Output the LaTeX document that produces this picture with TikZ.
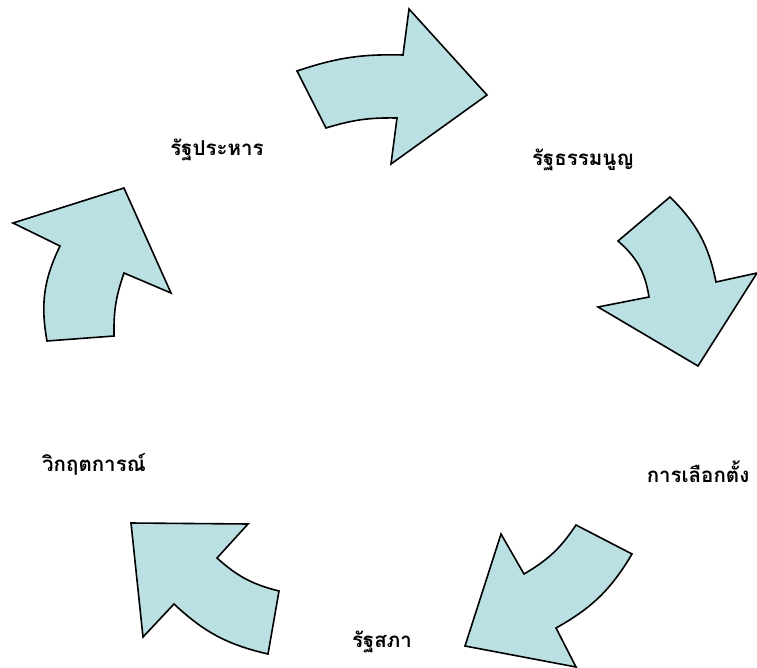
\documentclass[tikz,border=0pt]{standalone}
\usepackage{fontspec}
\newfontfamily\thaifont[Script=Thai]{Loma}
\definecolor{arrowfill}{RGB}{186,224,227}
\begin{document}
\begin{tikzpicture}[x=1pt,y=1pt,
  cyc/.style={draw=black,fill=arrowfill,line width=1.6pt,line join=miter},
  lbl/.style={font=\thaifont\bfseries\fontsize{20.5}{24}\selectfont,text=black,inner sep=0pt}]
\useasboundingbox (0,0) rectangle (757,-668);
% arrow 1 (top)
\draw[cyc] (297,-71) to[bend left=10] (403,-55) -- (409,-9) -- (487,-95) -- (391,-164) -- (397,-118) to[bend right=9] (326,-128) -- cycle;
% arrow 2 (right)
\draw[cyc] (670,-197) -- (618,-241) to[bend left=20] (649,-297) -- (598,-307) -- (698,-366) -- (757,-273) -- (716,-282) to[bend right=17] cycle;
% arrow 3 (bottom right)
\draw[cyc] (576,-525) -- (632,-554) to[bend left=15] (556,-628) -- (576,-667) -- (465,-646) -- (501,-534) -- (524,-574) to[bend right=13] cycle;
% arrow 4 (bottom left)
\draw[cyc] (131,-523) -- (248,-524) -- (217,-558) to[bend right=14] (279,-591) -- (268,-654) to[bend left=15] (174,-604) -- (143,-637) -- cycle;
% arrow 5 (left)
\draw[cyc] (47,-341) to[bend left=18] (60,-246) -- (13,-223) -- (124,-188) -- (171,-293) -- (124,-273) to[bend right=10] (114,-336) -- cycle;
% labels
\node[lbl] (coup) at (217,-150) {รัฐประหาร};
\node[lbl] (const) at (583,-160) {รัฐธรรมนูญ};
\node[lbl] (elect) at (698,-472) {การเลือกตั้ง};
\node[lbl] (parl) at (382,-642) {รัฐสภา};
\node[lbl] (crisis) at (94,-464) {วิกฤตการณ์};
\end{tikzpicture}
\end{document}
